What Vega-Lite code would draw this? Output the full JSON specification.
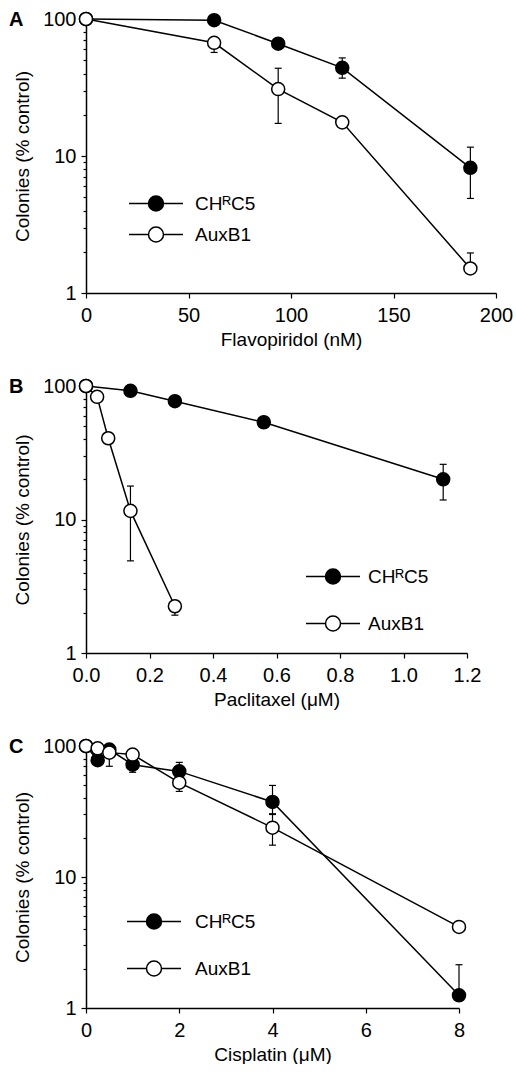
{
  "$schema": "https://vega.github.io/schema/vega-lite/v6.json",
  "padding": {"left": 9, "top": 9, "right": 0, "bottom": 0},
  "spacing": 27,
  "resolve": {"scale": {"fill": "independent"}, "legend": {"fill": "independent"}},
  "config": {
    "view": {"stroke": null},
    "font": "Liberation Sans",
    "axis": {"domainColor": "black", "tickColor": "black", "labelColor": "black", "titleColor": "black", "labelFont": "Liberation Sans", "titleFont": "Liberation Sans", "labelFontSize": 20, "titleFontSize": 19, "titleFontWeight": "normal", "grid": false, "tickSize": 5, "domainWidth": 1.5, "tickWidth": 1.2, "labelPadding": 5, "titlePadding": 10, "labelFlush": false},
    "axisX": {"labelPadding": 7, "titlePadding": 5},
    "legend": {"labelFont": "Liberation Sans", "labelFontSize": 19, "labelColor": "black", "padding": 0, "symbolSize": 225, "symbolStrokeColor": "black", "symbolStrokeWidth": 1.5, "symbolType": "M-3.6,0L-1,0M1,0L3.6,0M-1,0A1,1,0,1,0,1,0A1,1,0,1,0,-1,0Z"},
    "title": {"anchor": "start", "frame": "group", "font": "Liberation Sans", "fontSize": 20, "fontWeight": "bold", "color": "black", "dx": -77, "dy": 25, "offset": 0}
  },
  "vconcat": [
    {
      "width": 410, "height": 274,
      "title": "A",
      "data": {"values": [
        {"s": "CHᴿC5", "x": 0, "y": 100},
        {"s": "CHᴿC5", "x": 62.5, "y": 98},
        {"s": "CHᴿC5", "x": 93.75, "y": 66, "lo": 60, "hi": 72},
        {"s": "CHᴿC5", "x": 125, "y": 44, "lo": 37, "hi": 52},
        {"s": "CHᴿC5", "x": 187.5, "y": 8.2, "lo": 4.9, "hi": 11.6},
        {"s": "AuxB1", "x": 0, "y": 100},
        {"s": "AuxB1", "x": 62.5, "y": 67, "lo": 57, "hi": 67},
        {"s": "AuxB1", "x": 93.75, "y": 30.8, "lo": 17.3, "hi": 43.7},
        {"s": "AuxB1", "x": 125, "y": 17.6},
        {"s": "AuxB1", "x": 187.5, "y": 1.51, "lo": 1.51, "hi": 1.96}
      ]},
      "resolve": {"axis": {"y": "independent"}},
      "encoding": {"x": {"field": "x", "type": "quantitative", "scale": {"domain": [0, 200]}, "axis": {"values": [0, 50, 100, 150, 200], "title": "Flavopiridol (nM)"}}},
      "layer": [
        {"mark": {"type": "line", "color": "black", "strokeWidth": 1.5},
         "encoding": {"y": {"field": "y", "type": "quantitative", "scale": {"type": "log", "domain": [1, 100]}, "axis": {"orient": "left", "values": [2, 3, 4, 5, 6, 7, 8, 9, 20, 30, 40, 50, 60, 70, 80, 90], "labels": false, "domain": false, "tickSize": 3, "title": null}}, "detail": {"field": "s"}}},
        {"transform": [{"filter": "isValid(datum.lo)"}],
         "mark": {"type": "rule", "color": "black", "strokeWidth": 1.2},
         "encoding": {"y": {"field": "lo", "type": "quantitative", "scale": {"type": "log", "domain": [1, 100]}, "axis": null}, "y2": {"field": "hi"}}},
        {"transform": [{"fold": ["lo", "hi"], "as": ["k", "cv"]}, {"filter": "isValid(datum.cv) && datum.cv != datum.y"}],
         "mark": {"type": "tick", "orient": "horizontal", "color": "black", "thickness": 1.2, "size": 7, "opacity": 1},
         "encoding": {"y": {"field": "cv", "type": "quantitative", "scale": {"type": "log", "domain": [1, 100]}, "axis": null}}},
        {"mark": {"type": "circle", "size": 170, "stroke": "black", "strokeWidth": 1.5, "opacity": 1},
         "encoding": {
           "y": {"field": "y", "type": "quantitative", "scale": {"type": "log", "domain": [1, 100]}, "axis": {"orient": "left", "values": [1, 10, 100], "format": "d", "title": "Colonies (% control)"}},
           "fill": {"field": "s", "type": "nominal", "scale": {"domain": ["CHᴿC5", "AuxB1"], "range": ["black", "white"]}, "legend": {"title": null, "orient": "none", "legendX": 60.5, "legendY": 175, "labelOffset": 29.5, "rowPadding": 10}}
         }}
      ]
    },
    {
      "width": 381, "height": 267,
      "title": "B",
      "data": {"values": [
        {"s": "CHᴿC5", "x": 0, "y": 100},
        {"s": "CHᴿC5", "x": 0.14, "y": 92},
        {"s": "CHᴿC5", "x": 0.28, "y": 77},
        {"s": "CHᴿC5", "x": 0.56, "y": 53.5},
        {"s": "CHᴿC5", "x": 1.125, "y": 20, "lo": 14, "hi": 25.9},
        {"s": "AuxB1", "x": 0, "y": 100},
        {"s": "AuxB1", "x": 0.035, "y": 83},
        {"s": "AuxB1", "x": 0.07, "y": 40.6},
        {"s": "AuxB1", "x": 0.14, "y": 11.6, "lo": 4.9, "hi": 17.8},
        {"s": "AuxB1", "x": 0.28, "y": 2.24, "lo": 1.92, "hi": 2.24}
      ]},
      "resolve": {"axis": {"y": "independent"}},
      "encoding": {"x": {"field": "x", "type": "quantitative", "scale": {"domain": [0, 1.2]}, "axis": {"values": [0, 0.2, 0.4, 0.6, 0.8, 1.0, 1.2], "format": ".1f", "title": "Paclitaxel (μM)"}}},
      "layer": [
        {"mark": {"type": "line", "color": "black", "strokeWidth": 1.5},
         "encoding": {"y": {"field": "y", "type": "quantitative", "scale": {"type": "log", "domain": [1, 100]}, "axis": {"orient": "left", "values": [2, 3, 4, 5, 6, 7, 8, 9, 20, 30, 40, 50, 60, 70, 80, 90], "labels": false, "domain": false, "tickSize": 3, "title": null}}, "detail": {"field": "s"}}},
        {"transform": [{"filter": "isValid(datum.lo)"}],
         "mark": {"type": "rule", "color": "black", "strokeWidth": 1.2},
         "encoding": {"y": {"field": "lo", "type": "quantitative", "scale": {"type": "log", "domain": [1, 100]}, "axis": null}, "y2": {"field": "hi"}}},
        {"transform": [{"fold": ["lo", "hi"], "as": ["k", "cv"]}, {"filter": "isValid(datum.cv) && datum.cv != datum.y"}],
         "mark": {"type": "tick", "orient": "horizontal", "color": "black", "thickness": 1.2, "size": 7, "opacity": 1},
         "encoding": {"y": {"field": "cv", "type": "quantitative", "scale": {"type": "log", "domain": [1, 100]}, "axis": null}}},
        {"mark": {"type": "circle", "size": 170, "stroke": "black", "strokeWidth": 1.5, "opacity": 1},
         "encoding": {
           "y": {"field": "y", "type": "quantitative", "scale": {"type": "log", "domain": [1, 100]}, "axis": {"orient": "left", "values": [1, 10, 100], "format": "d", "title": "Colonies (% control)"}},
           "fill": {"field": "s", "type": "nominal", "scale": {"domain": ["CHᴿC5", "AuxB1"], "range": ["black", "white"]}, "legend": {"title": null, "orient": "none", "legendX": 237.5, "legendY": 181, "labelOffset": 25.5, "rowPadding": 26, "encode": {"symbols": {"update": {"strokeWidth": {"signal": "datum.value === 'CHᴿC5' ? 3 : 1.5"}}}}}}
         }}
      ]
    },
    {
      "width": 373, "height": 262,
      "title": "C",
      "data": {"values": [
        {"s": "CHᴿC5", "x": 0, "y": 100},
        {"s": "CHᴿC5", "x": 0.25, "y": 78},
        {"s": "CHᴿC5", "x": 0.5, "y": 94},
        {"s": "CHᴿC5", "x": 1, "y": 72, "lo": 63, "hi": 80},
        {"s": "CHᴿC5", "x": 2, "y": 64, "lo": 64, "hi": 75},
        {"s": "CHᴿC5", "x": 4, "y": 37.4, "lo": 30, "hi": 50},
        {"s": "CHᴿC5", "x": 8, "y": 1.25, "lo": 1.25, "hi": 2.14},
        {"s": "AuxB1", "x": 0, "y": 100},
        {"s": "AuxB1", "x": 0.25, "y": 96},
        {"s": "AuxB1", "x": 0.5, "y": 89, "lo": 70, "hi": 89},
        {"s": "AuxB1", "x": 1, "y": 86},
        {"s": "AuxB1", "x": 2, "y": 52.5, "lo": 45, "hi": 52.5},
        {"s": "AuxB1", "x": 4, "y": 23.8, "lo": 17.5, "hi": 30.4},
        {"s": "AuxB1", "x": 8, "y": 4.16}
      ]},
      "resolve": {"axis": {"y": "independent"}},
      "encoding": {"x": {"field": "x", "type": "quantitative", "scale": {"domain": [0, 8]}, "axis": {"values": [0, 2, 4, 6, 8], "title": "Cisplatin (μM)"}}},
      "layer": [
        {"mark": {"type": "line", "color": "black", "strokeWidth": 1.5},
         "encoding": {"y": {"field": "y", "type": "quantitative", "scale": {"type": "log", "domain": [1, 100]}, "axis": {"orient": "left", "values": [2, 3, 4, 5, 6, 7, 8, 9, 20, 30, 40, 50, 60, 70, 80, 90], "labels": false, "domain": false, "tickSize": 3, "title": null}}, "detail": {"field": "s"}}},
        {"transform": [{"filter": "isValid(datum.lo)"}],
         "mark": {"type": "rule", "color": "black", "strokeWidth": 1.2},
         "encoding": {"y": {"field": "lo", "type": "quantitative", "scale": {"type": "log", "domain": [1, 100]}, "axis": null}, "y2": {"field": "hi"}}},
        {"transform": [{"fold": ["lo", "hi"], "as": ["k", "cv"]}, {"filter": "isValid(datum.cv) && datum.cv != datum.y"}],
         "mark": {"type": "tick", "orient": "horizontal", "color": "black", "thickness": 1.2, "size": 7, "opacity": 1},
         "encoding": {"y": {"field": "cv", "type": "quantitative", "scale": {"type": "log", "domain": [1, 100]}, "axis": null}}},
        {"mark": {"type": "circle", "size": 170, "stroke": "black", "strokeWidth": 1.5, "opacity": 1},
         "encoding": {
           "y": {"field": "y", "type": "quantitative", "scale": {"type": "log", "domain": [1, 100]}, "axis": {"orient": "left", "values": [1, 10, 100], "format": "d", "title": "Colonies (% control)"}},
           "fill": {"field": "s", "type": "nominal", "scale": {"domain": ["CHᴿC5", "AuxB1"], "range": ["black", "white"]}, "legend": {"title": null, "orient": "none", "legendX": 58.5, "legendY": 166, "labelOffset": 31.5, "rowPadding": 26, "encode": {"symbols": {"update": {"strokeDash": {"signal": "datum.value === 'CHᴿC5' ? [6, 2] : [1, 0]"}}}}}}
         }}
      ]
    }
  ]
}
